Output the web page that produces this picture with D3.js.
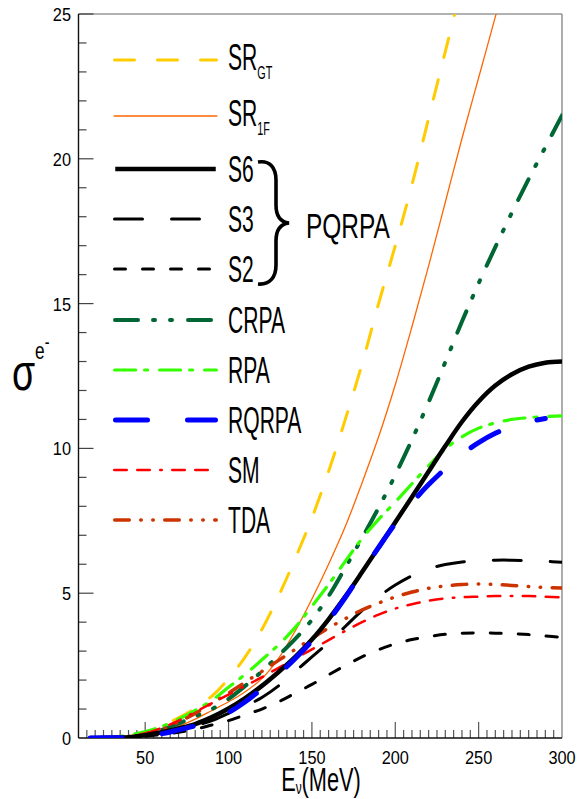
<!DOCTYPE html>
<html>
<head>
<meta charset="utf-8">
<script src="https://cdn.jsdelivr.net/npm/d3@7"></script>
<style>
  body { margin: 0; background: #fff; }
  text { font-family: "Liberation Sans", Arial, sans-serif; fill: #000; }
</style>
</head>
<body>
<div id="chart"></div>
<script>
// data (sigma vs neutrino energy)
var energies = [17, 20, 30, 40, 50, 60, 70, 80, 90, 100, 110, 120, 130, 140, 150, 160, 170, 180, 190, 200, 210, 220, 230, 240, 250, 260, 270, 280, 290, 300]

var srGT  = [0, 0, 0.01, 0.06, 0.2, 0.42, 0.7, 1.02, 1.45, 2.05, 2.8, 3.75, 4.9, 6.2, 7.6, 9.2, 11.0, 12.9, 15.0, 17.0, 19.1, 21.4, 23.7, 26.0]
var sr1F  = [0, 0, 0, 0.02, 0.08, 0.2, 0.4, 0.65, 0.95, 1.25, 1.6, 2.05, 2.75, 3.7, 4.8, 6.0, 7.3, 8.8, 10.4, 12.2, 14.2, 16.3, 18.5, 20.7, 22.8, 24.9, 27.0]
var s6    = [0, 0, 0.01, 0.03, 0.1, 0.2, 0.33, 0.48, 0.72, 1.02, 1.38, 1.8, 2.28, 2.8, 3.4, 4.1, 4.88, 5.72, 6.58, 7.45, 8.32, 9.2, 10.08, 10.92, 11.62, 12.17, 12.56, 12.82, 12.96, 13.0]
var s3    = [0, 0, 0.01, 0.02, 0.08, 0.17, 0.28, 0.43, 0.6, 0.85, 1.1, 1.4, 1.8, 2.3, 2.8, 3.3, 3.85, 4.4, 4.88, 5.28, 5.6, 5.84, 5.99, 6.08, 6.12, 6.14, 6.14, 6.12, 6.1, 6.07]
var s2    = [0, 0, 0.01, 0.02, 0.06, 0.12, 0.2, 0.3, 0.45, 0.6, 0.8, 1.0, 1.25, 1.55, 1.85, 2.18, 2.5, 2.8, 3.05, 3.25, 3.4, 3.5, 3.58, 3.62, 3.63, 3.62, 3.6, 3.57, 3.52, 3.48]
var crpa  = [0, 0, 0.01, 0.04, 0.12, 0.28, 0.5, 0.75, 1.0, 1.35, 1.8, 2.3, 2.85, 3.42, 4.08, 4.9, 5.88, 6.9, 7.95, 9.08, 10.3, 11.6, 12.98, 14.38, 15.7, 16.95, 18.15, 19.3, 20.4, 21.5]
var rpa   = [0, 0, 0.02, 0.1, 0.22, 0.4, 0.65, 0.95, 1.3, 1.75, 2.2, 2.7, 3.22, 3.82, 4.55, 5.3, 6.1, 6.88, 7.55, 8.15, 8.78, 9.4, 9.98, 10.4, 10.7, 10.88, 11.0, 11.06, 11.1, 11.12]
var rqrpa = [0, 0, 0.01, 0.02, 0.08, 0.15, 0.28, 0.42, 0.62, 0.88, 1.25, 1.7, 2.2, 2.75, 3.35, 4.05, 4.85, 5.72, 6.58, 7.4, 8.12, 8.75, 9.3, 9.8, 10.2, 10.52, 10.76, 10.92, 11.03]
var sm    = [0, 0, 0.01, 0.05, 0.15, 0.35, 0.6, 0.9, 1.2, 1.5, 1.8, 2.1, 2.42, 2.75, 3.06, 3.38, 3.7, 4.0, 4.26, 4.47, 4.62, 4.74, 4.82, 4.86, 4.88, 4.9, 4.9, 4.9, 4.88, 4.86]
var tda   = [0, 0, 0.01, 0.04, 0.15, 0.3, 0.55, 0.85, 1.2, 1.55, 1.93, 2.3, 2.68, 3.06, 3.44, 3.8, 4.12, 4.42, 4.66, 4.87, 5.04, 5.17, 5.25, 5.3, 5.32, 5.3, 5.27, 5.23, 5.2, 5.18]

var xTicks = [50, 100, 150, 200, 250, 300]
var yTicks = [0, 5, 10, 15, 20, 25]

var w = 580, h = 799
var pL = 78.5, pR = 562, pT = 14, pB = 738

// series: name, sub, values, colour, width, dash  (legend order)
var series = [
  {name: "SR", sub: "GT", vals: srGT, color: "#ffcc00", width: 3, dash: "20,23"},
  {name: "SR", sub: "1F", vals: sr1F, color: "#ff6600", width: 1.3, dash: null},
  {name: "S6", vals: s6, color: "#000000", width: 4.5, dash: null},
  {name: "S3", vals: s3, color: "#000000", width: 3, dash: "28,29"},
  {name: "S2", vals: s2, color: "#000000", width: 3, dash: "11,17"},
  {name: "CRPA", vals: crpa, color: "#006633", width: 4, dash: "23,15,2,15,2,16"},
  {name: "RPA", vals: rpa, color: "#33ff00", width: 3.2, dash: "21,9,3,12"},
  {name: "RQRPA", vals: rqrpa, color: "#0000ff", width: 5, dash: "32,40"},
  {name: "SM", vals: sm, color: "#ff0000", width: 2.5, dash: "12.5,10.5,12.5,10.5,1.5,10.5"},
  {name: "TDA", vals: tda, color: "#cc3300", width: 3.5, dash: "14.5,11.5,0.5,11.5,0.5,11.5"}
]
// drawing order (last on top)
var drawOrder = [0, 1, 5, 6, 4, 3, 9, 8, 2, 7]

var x = d3.scaleLinear().domain([10, 300]).range([pL, pR])
var y = d3.scaleLinear().domain([0, 25]).range([pB, pT])

var svg = d3.select("#chart").append("svg")
  .attr("width", w).attr("height", h)

svg.append("clipPath").attr("id", "plotclip")
  .append("rect").attr("x", pL).attr("y", pT)
  .attr("width", pR - pL).attr("height", pB - pT)

// frame
svg.append("line").attr("x1", pL).attr("x2", pR).attr("y1", pT).attr("y2", pT)
  .attr("stroke", "#666").attr("stroke-width", 1.2)
svg.append("line").attr("x1", pR).attr("x2", pR).attr("y1", pT).attr("y2", pB)
  .attr("stroke", "#777").attr("stroke-width", 1.2)

// ticks
var xMinor = d3.range(15, 300, 5)
svg.selectAll(".xt").data(xMinor).enter().append("line")
  .attr("x1", d => x(d)).attr("x2", d => x(d))
  .attr("y1", pB).attr("y2", d => pB - (d % 50 == 0 ? 16 : 8))
  .attr("stroke", "#555").attr("stroke-width", 1.2)
var yMinor = d3.range(1, 26, 1)
svg.selectAll(".yt").data(yMinor).enter().append("line")
  .attr("y1", d => y(d)).attr("y2", d => y(d))
  .attr("x1", pL).attr("x2", d => pL + (d % 5 == 0 ? 15 : 8))
  .attr("stroke", "#444").attr("stroke-width", 1.2)

svg.append("line").attr("x1", pL).attr("x2", pL).attr("y1", pT).attr("y2", pB)
  .attr("stroke", "#111").attr("stroke-width", 1.4)
svg.append("line").attr("x1", pL).attr("x2", pR).attr("y1", pB).attr("y2", pB)
  .attr("stroke", "#111").attr("stroke-width", 1.4)

// narrow helvetica-ish text
var scaled = function(g, px, py, str, size, sx, anchor) {
  return g.append("text")
    .attr("transform", "translate(" + px + "," + py + ") scale(" + sx + ",1)")
    .attr("font-size", size)
    .attr("text-anchor", anchor || "start")
    .text(str)
}
xTicks.forEach(function(t) { scaled(svg, x(t), 764, t, 19, 0.86, "middle") })
yTicks.forEach(function(t) { scaled(svg, 71, y(t) + 7, t, 19, 0.86, "end") })

// axis titles
var xt = svg.append("text")
  .attr("transform", "translate(321,791) scale(0.66,1)")
  .attr("text-anchor", "middle").attr("font-size", 33)
xt.append("tspan").text("E")
xt.append("tspan").attr("font-size", 18).attr("dy", 3).text("\u03bd")
xt.append("tspan").attr("dy", -3).text("(MeV)")

var yt = svg.append("text")
  .attr("transform", "translate(12,390) scale(0.72,1)")
  .attr("font-size", 52)
yt.append("tspan").text("\u03c3")
yt.append("tspan").attr("font-size", 24).attr("dy", -31).text("e")
yt.append("tspan").attr("font-size", 20).attr("dy", -10).text("-")

// curves
var line = d3.line()
  .x((d, i) => x(energies[i]))
  .y(d => y(d))
  .curve(d3.curveCatmullRom.alpha(0.5))

var plot = svg.append("g").attr("clip-path", "url(#plotclip)")
drawOrder.forEach(function(k) {
  var s = series[k]
  plot.append("path")
    .attr("d", line(s.vals))
    .attr("fill", "none")
    .attr("stroke", s.color)
    .attr("stroke-width", s.width)
    .attr("stroke-linecap", s.dash ? "round" : "butt")
    .attr("stroke-linejoin", "round")
    .attr("stroke-dasharray", s.dash)
})

// legend
var legY = [60, 116, 169, 219, 269, 320, 370, 420, 470, 520]
var leg = svg.append("g")
series.forEach(function(s, i) {
  leg.append("line")
    .attr("x1", 113 + s.width / 2).attr("x2", 218 - s.width / 2)
    .attr("y1", legY[i]).attr("y2", legY[i])
    .attr("stroke", s.color).attr("stroke-width", s.width)
    .attr("stroke-linecap", s.dash ? "round" : "butt")
    .attr("stroke-dasharray", s.dash)
  var tx = leg.append("text")
    .attr("transform", "translate(228," + (legY[i] + (s.sub ? 10 : 13)) + ") scale(0.57,1)")
    .attr("font-size", 37)
  tx.append("tspan").text(s.name)
  if (s.sub) tx.append("tspan").attr("font-size", 19).attr("dy", 9).text(s.sub)
})

// brace round the PQRPA group
leg.append("path")
  .attr("d", "M258,162 C270,160 276,168 276,180 L276,205 C276,216 280,222 289,223 " +
             "C280,224 276,230 276,241 L276,265 C276,277 270,285 258,284")
  .attr("fill", "none").attr("stroke", "#000").attr("stroke-width", 3.6)
scaled(leg, 306, 238, "PQRPA", 35, 0.7)
</script>
</body>
</html>
